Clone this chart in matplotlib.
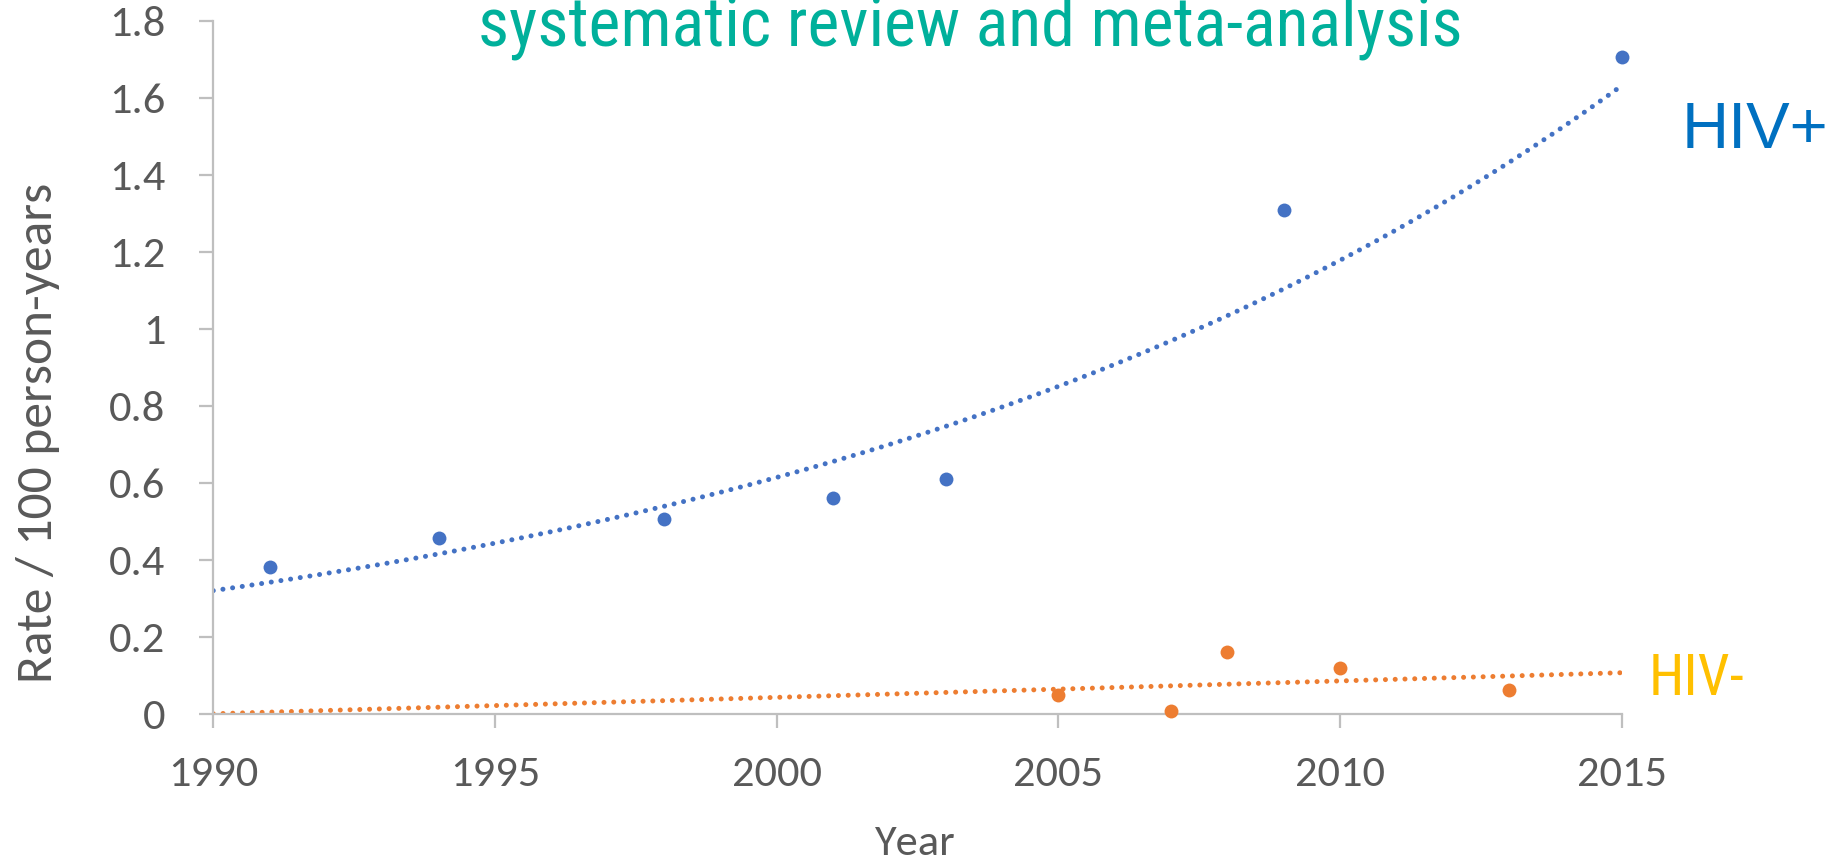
import numpy as np
import matplotlib
matplotlib.use("Agg")
import matplotlib.pyplot as plt
from matplotlib import font_manager

# data
hiv_pos_years = [1991, 1994, 1998, 2001, 2003, 2009, 2015]
hiv_pos_rates = [0.381, 0.458, 0.506, 0.561, 0.610, 1.308, 1.705]
hiv_neg_years = [2005, 2007, 2008, 2010, 2013]
hiv_neg_rates = [0.049, 0.008, 0.160, 0.119, 0.063]

x_ticks = [1990, 1995, 2000, 2005, 2010, 2015]
y_ticks = [0, 0.2, 0.4, 0.6, 0.8, 1.0, 1.2, 1.4, 1.6, 1.8]
y_tick_labels = ["0", "0.2", "0.4", "0.6", "0.8", "1", "1.2", "1.4", "1.6", "1.8"]

title = "systematic review and meta-analysis"


def pick_font(names):
    for n in names:
        try:
            font_manager.findfont(n, fallback_to_default=False)
            return n
        except Exception:
            pass
    return "DejaVu Sans"


narrow = pick_font(["Liberation Sans Narrow", "Roboto Condensed", "Archivo Narrow", "Liberation Sans"])
arial = pick_font(["Liberation Sans", "Arimo", "DejaVu Sans"])
plt.rcParams["font.family"] = [pick_font(["Carlito", "Lato"]), "DejaVu Sans"]

grey_txt = "#595959"
grey_ax = "#BFBFBF"
blue = "#4472C4"
orange = "#ED7D31"

fig = plt.figure(figsize=(18.32, 8.65), dpi=100)
ax = fig.add_axes([0.1164, 0.1746, 0.8851 - 0.1164, 0.9761 - 0.1746])

# trendlines (exponential for HIV+, linear for HIV-), like Excel
xs = np.linspace(1990, 2015, 300)
b, ln_a = np.polyfit(np.array(hiv_pos_years) - 1990, np.log(hiv_pos_rates), 1)
pos_trend = np.exp(ln_a + b * (xs - 1990))
m, c = np.polyfit(np.array(hiv_neg_years) - 1990, hiv_neg_rates, 1)
neg_trend = m * (xs - 1990) + c

lw = 3.6
dots = (0, (0.01, 7.0 / lw))
ax.plot(xs, pos_trend, color=blue, lw=lw, linestyle=dots, dash_capstyle="round", zorder=2)
ax.plot(xs, neg_trend, color=orange, lw=lw, linestyle=dots, dash_capstyle="round", zorder=2)

ax.plot(hiv_pos_years, hiv_pos_rates, "o", color=blue, ms=10, mew=0, zorder=3, clip_on=False)
ax.plot(hiv_neg_years, hiv_neg_rates, "o", color=orange, ms=10, mew=0, zorder=3, clip_on=False)

ax.set_xlim(1990, 2015)
ax.set_ylim(0, 1.8)
ax.set_xticks(x_ticks)
ax.set_yticks(y_ticks)
ax.set_yticklabels(y_tick_labels)

for s in ["top", "right"]:
    ax.spines[s].set_visible(False)
for s in ["left", "bottom"]:
    ax.spines[s].set_color(grey_ax)
    ax.spines[s].set_linewidth(1.6)

ax.tick_params(axis="both", direction="out", length=10, width=1.6, color=grey_ax,
               labelcolor=grey_txt, labelsize=32)
ax.tick_params(axis="y", pad=24.5)
ax.tick_params(axis="x", pad=20)

fig.text(0.4995, 0.0116, "Year", ha="center", va="baseline", fontsize=32, color=grey_txt)
fig.text(0.0206, 0.4994, "Rate / 100 person-years", rotation=90, ha="center", va="center",
         fontsize=37, color=grey_txt)

fig.text(0.5295, 1 - 46 / 865, title, ha="center", va="baseline", fontsize=49,
         color="#00B09B", family=narrow)
fig.text(0.918, 0.8286, "HIV+", ha="left", va="baseline", fontsize=47,
         color="#0070C0", family=arial)
fig.text(0.9001, 0.1965, "HIV-", ha="left", va="baseline", fontsize=41,
         color="#FFC000", family=narrow)

fig.savefig("out.png", dpi=100)
